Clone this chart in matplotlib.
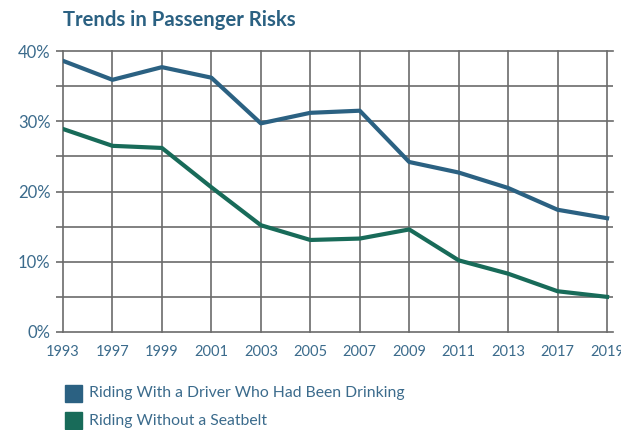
import numpy as np
import matplotlib.pyplot as plt
from matplotlib.patches import Rectangle

# data
years = ["1993", "1997", "1999", "2001", "2003", "2005", "2007", "2009", "2011", "2013", "2017", "2019"]
drinking_driver = [38.6, 35.9, 37.7, 36.2, 29.7, 31.2, 31.5, 24.2, 22.7, 20.5, 17.4, 16.2]
no_seatbelt = [28.9, 26.5, 26.2, 20.6, 15.2, 13.1, 13.3, 14.6, 10.2, 8.3, 5.8, 5.0]
series_names = ["Riding With a Driver Who Had Been Drinking", "Riding Without a Seatbelt"]

blue = "#2b6182"
green = "#186b59"
text_col = "#3b6b8c"
grid_col = "#6b6b6b"

plt.rcParams['font.family'] = ['Lato', 'DejaVu Sans']

fig = plt.figure(figsize=(6.21, 4.30), dpi=100)
ax = fig.add_axes([63/621, 1 - 332/430, (613 - 63)/621, (332 - 51)/430])

x = np.arange(len(years))
ax.plot(x, drinking_driver, color=blue, lw=3.0, solid_joinstyle='round', zorder=3)
ax.plot(x, no_seatbelt, color=green, lw=3.0, solid_joinstyle='round', zorder=3)

ax.set_xlim(0, 11.12)
ax.set_ylim(0, 40)
ax.set_xticks(x)
ax.set_xticklabels(years)
ax.set_yticks([0, 10, 20, 30, 40])
ax.set_yticklabels(["0%", "10%", "20%", "30%", "40%"])
ax.set_yticks(np.arange(0, 41, 5), minor=True)

ax.grid(True, which='both', color=grid_col, lw=1.2)
ax.set_axisbelow(True)
for sp in ax.spines.values():
    sp.set_visible(False)
for gl in ax.get_ygridlines() + ax.get_xgridlines():
    gl.set_clip_on(False)

ax.tick_params(axis='x', length=0, pad=9, labelsize=10.5, labelcolor=text_col)
ax.tick_params(axis='y', which='both', length=5, width=1.2, color=grid_col,
               pad=4, labelsize=12, labelcolor=text_col)

fig.text(63/621, 1 - 20/430, "Trends in Passenger Risks", fontsize=14.6,
         fontweight='bold', color=blue, va='center', ha='left')

# legend
for i, (name, col) in enumerate(zip(series_names, [blue, green])):
    y_top = 385 + i * 27
    fig.patches.append(Rectangle((65/621, 1 - (y_top + 17)/430), 17/621, 17/430,
                                 transform=fig.transFigure, color=col))
    fig.text(89/621, 1 - (y_top + 8.5)/430, name, fontsize=11.3, color=text_col,
             va='center', ha='left')

fig.savefig("out.png", dpi=100)
